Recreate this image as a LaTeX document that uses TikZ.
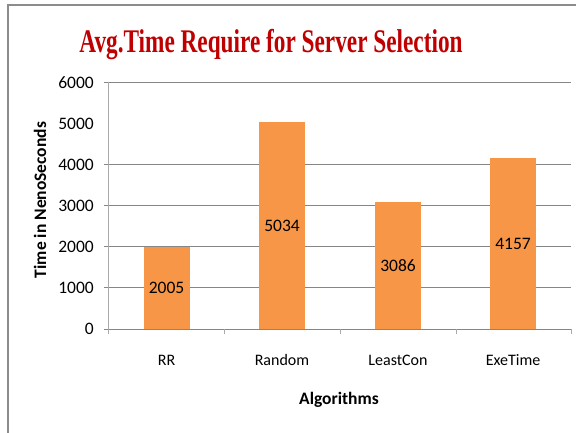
\documentclass[tikz,border=0pt]{standalone}
\usepackage{fontspec}
\setmainfont{Carlito}
\newfontfamily\titlefont{Liberation Serif}
\definecolor{barorange}{HTML}{F79646}
\definecolor{titlered}{HTML}{C00000}
\definecolor{gridgray}{HTML}{868686}

\begin{document}
\begin{tikzpicture}[x=1pt, y=-1pt,
  frame/.style={draw=gray!90, line width=1.6pt},
  grid/.style={draw=gridgray, line width=0.9pt},
  axis/.style={draw=gridgray!70, line width=0.9pt},
  bar/.style={fill=barorange},
  ticklabel/.style={font=\fontsize{17.5}{19}\selectfont, anchor=east,
    inner sep=0pt},
  catlabel/.style={font=\fontsize{16}{18}\selectfont, inner sep=0pt},
  barlabel/.style={font=\fontsize{17.5}{19}\selectfont, inner sep=0pt},
  axistitle/.style={font=\fontsize{17.5}{19}\selectfont\bfseries,
    inner sep=0pt}
]
  \useasboundingbox (0,0) rectangle (576,433);
  \draw[frame] (8,433) -- (8,5) -- (576,5);

  \node[font=\titlefont\bfseries\fontsize{33}{36}\selectfont,
    text=titlered, anchor=base] (title) at (271,53)
    {\scalebox{0.705}[1]{Avg.Time Require for Server Selection}};

  \foreach \v in {0,1000,2000,3000,4000,6000}
    \draw[grid] (104,329-\v*0.0411) -- (571,329-\v*0.0411);
  \foreach \v in {0,1000,...,6000}
    \node[ticklabel] (tick\v) at (94,329-\v*0.0411) {\v};
  \draw[axis] (108,82) -- (108,333);
  \foreach \x in {108.5,224,340,456,571}
    \draw[axis] (\x,329) -- (\x,334);

  \foreach \name/\val/\cx in {RR/2005/166.5, Random/5034/282,
      LeastCon/3086/398, ExeTime/4157/513}{
    \fill[bar] (\cx-23,329) rectangle (\cx+23,329-\val*0.0411);
    \node[barlabel] (val\name) at (\cx,329-\val*0.02055) {\val};
    \node[catlabel] (cat\name) at (\cx,360) {\name};
  }

  \node[axistitle] (xtitle) at (339,400) {Algorithms};
  \node[axistitle, rotate=90] (ytitle) at (40,200) {Time in NenoSeconds};
\end{tikzpicture}
\end{document}
